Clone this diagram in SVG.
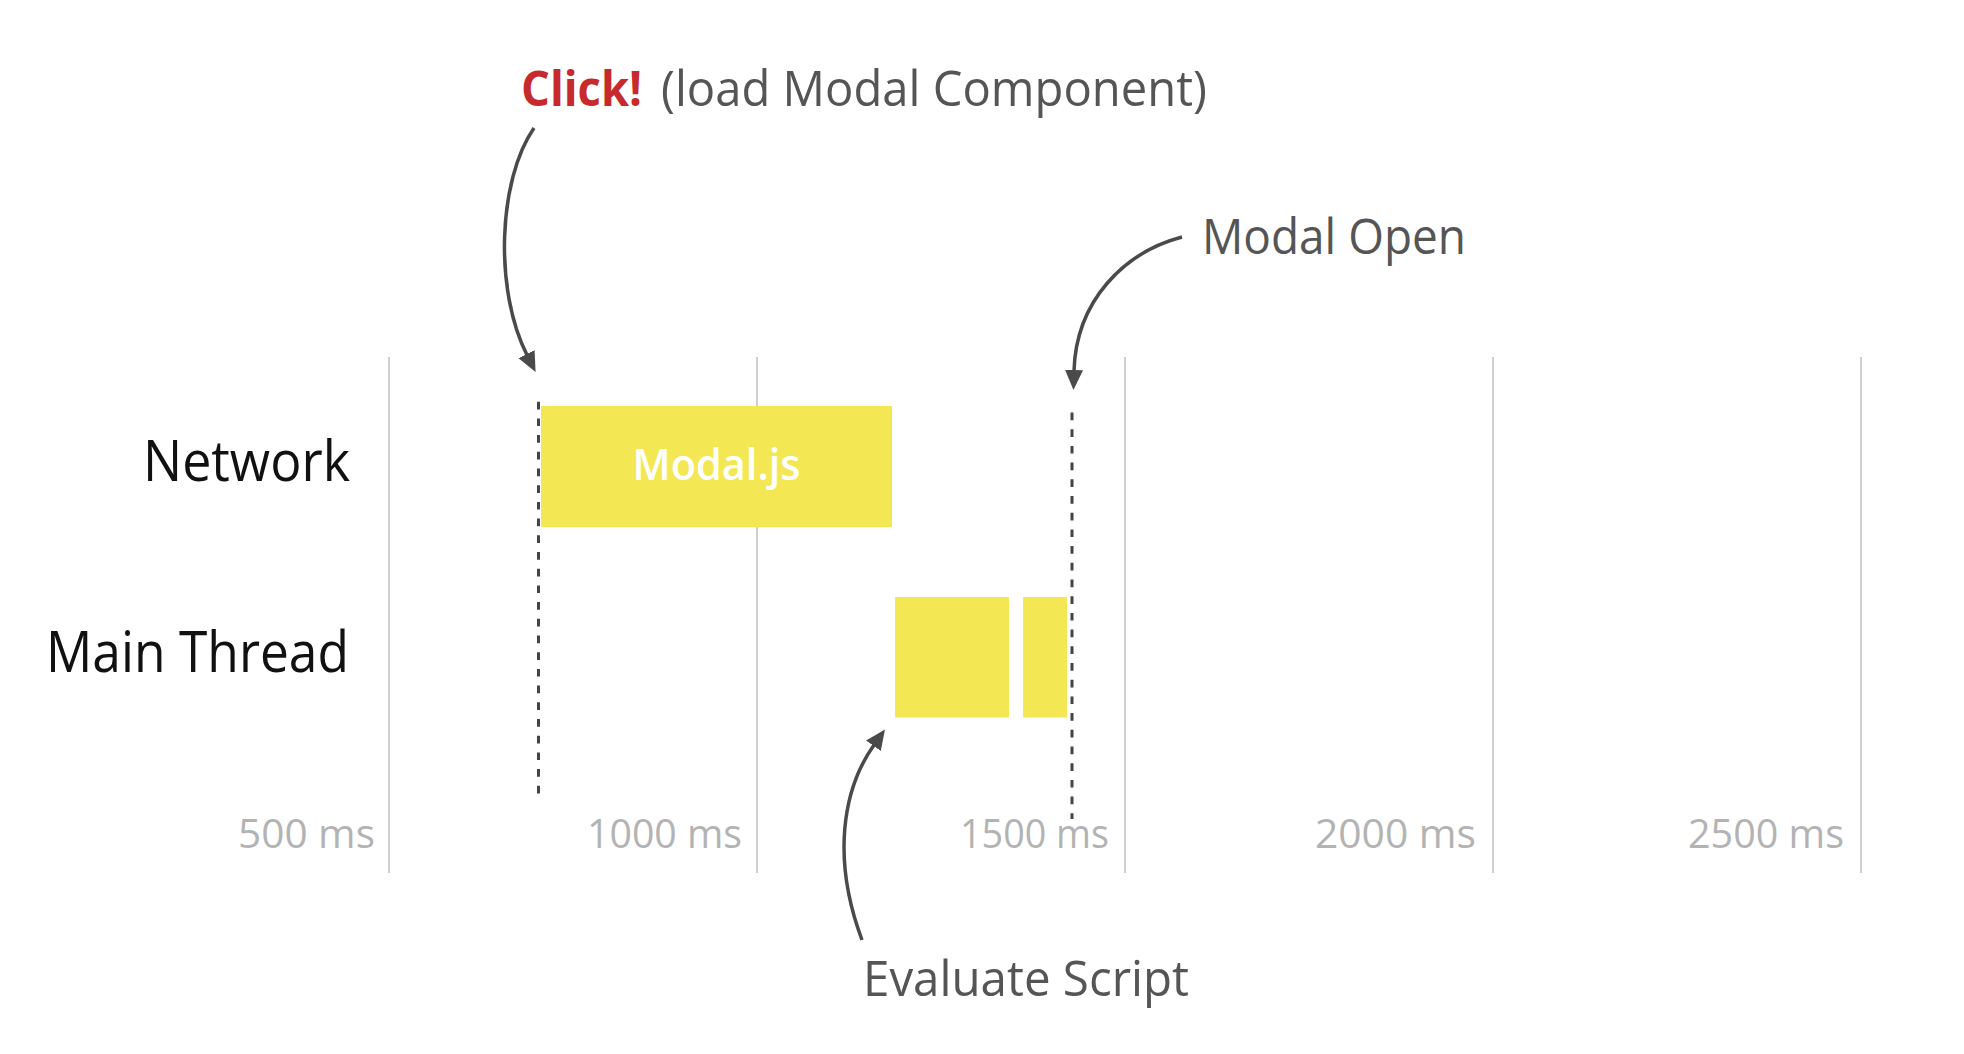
<svg xmlns="http://www.w3.org/2000/svg" width="1964" height="1054" viewBox="0 0 1964 1054">
<style>
.grid{stroke:#cfcfcf;stroke-width:2;fill:none}
.tick{font-family:"Open Sans","Noto Sans",sans-serif;font-size:40px;fill:#b3b3b3;text-anchor:end}
.row{font-family:"Open Sans","Noto Sans",sans-serif;font-size:57px;fill:#111111;text-anchor:end}
.note{font-family:"Open Sans","Noto Sans",sans-serif;font-size:49px;fill:#555555}
.bar{fill:#f3e853}
.dash{stroke:#444444;stroke-width:3;stroke-dasharray:7.7 9;fill:none}
.arrow{stroke:#4a4a4a;stroke-width:3.5;fill:none;marker-end:url(#head)}
</style>
<defs>
<marker id="head" viewBox="0 -10 22 20" markerWidth="22" markerHeight="20" refX="1" refY="0" orient="auto" markerUnits="userSpaceOnUse">
<path d="M0,-9 L20,0 L0,9 Z" fill="#4a4a4a"/>
</marker>
</defs>
<rect width="1964" height="1054" fill="#ffffff"/>
<g id="grid">
<line class="grid" x1="389" y1="357" x2="389" y2="873"/>
<line class="grid" x1="757" y1="357" x2="757" y2="873"/>
<line class="grid" x1="1125" y1="357" x2="1125" y2="873"/>
<line class="grid" x1="1493" y1="357" x2="1493" y2="873"/>
<line class="grid" x1="1861" y1="357" x2="1861" y2="873"/>
<text class="tick" x="375" y="848" textLength="137" lengthAdjust="spacingAndGlyphs">500 ms</text>
<text class="tick" x="742" y="848" textLength="155" lengthAdjust="spacingAndGlyphs">1000 ms</text>
<text class="tick" x="1109" y="848" textLength="149" lengthAdjust="spacingAndGlyphs">1500 ms</text>
<text class="tick" x="1476" y="848" textLength="161" lengthAdjust="spacingAndGlyphs">2000 ms</text>
<text class="tick" x="1844" y="848" textLength="156" lengthAdjust="spacingAndGlyphs">2500 ms</text>
</g>
<g id="network-label"><text class="row" x="350" y="481" textLength="207" lengthAdjust="spacingAndGlyphs">Network</text></g>
<g id="main-thread-label"><text class="row" x="349" y="672" textLength="303" lengthAdjust="spacingAndGlyphs">Main Thread</text></g>
<g id="modal-js">
<rect class="bar" x="541" y="406" width="351" height="121"/>
<text x="716.5" y="480" text-anchor="middle" font-family="Open Sans, Noto Sans, sans-serif" font-weight="600" font-size="44" fill="#ffffff" textLength="168" lengthAdjust="spacingAndGlyphs">Modal.js</text>
</g>
<g id="evaluate-1"><rect class="bar" x="895" y="597" width="114" height="120.5"/></g>
<g id="evaluate-2"><rect class="bar" x="1023" y="597" width="44" height="120.5"/></g>
<g id="click-marker"><line class="dash" x1="538.5" y1="401.7" x2="538.5" y2="797"/></g>
<g id="open-marker"><line class="dash" x1="1072" y1="412.5" x2="1072" y2="819"/></g>
<g id="click-label">
<text class="note" x="521" y="106" font-weight="700" style="fill:#c62a2d" textLength="121" lengthAdjust="spacingAndGlyphs">Click!</text>
<text class="note" x="661" y="106" textLength="546" lengthAdjust="spacingAndGlyphs">(load Modal Component)</text>
</g>
<g id="modal-open-label"><text class="note" x="1202" y="254" textLength="264" lengthAdjust="spacingAndGlyphs">Modal Open</text></g>
<g id="evaluate-label"><text class="note" x="863" y="996" textLength="326" lengthAdjust="spacingAndGlyphs">Evaluate Script</text></g>
<g id="connectors">
<path class="arrow" d="M534,128 C498,180 494,290 527,355"/>
<path class="arrow" d="M1182,237 C1125,252 1076,300 1074,371"/>
<path class="arrow" d="M862,940 C832,860 842,790 874,745"/>
</g>
</svg>
